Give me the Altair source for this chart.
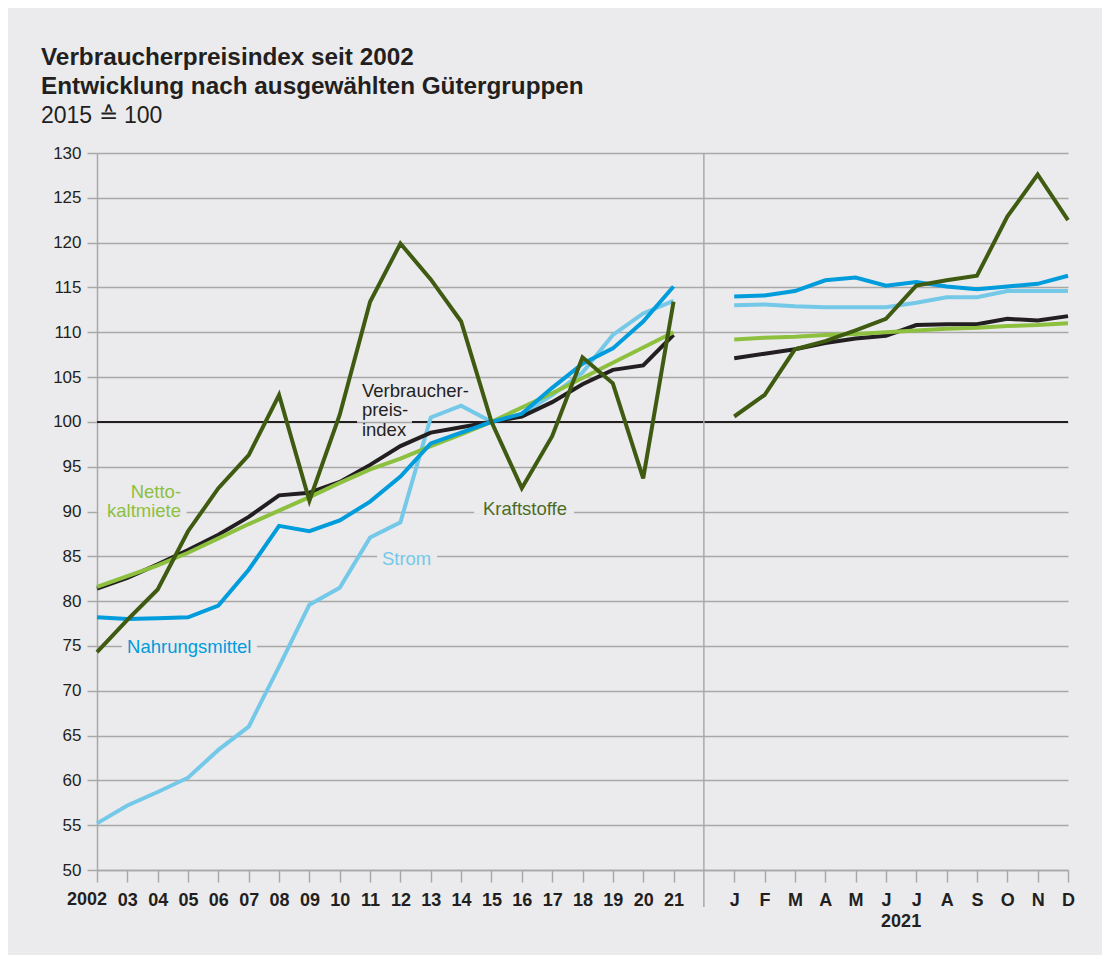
import altair as alt
import pandas as pd

# ---------------- data ----------------
year_labels = ["2002", "03", "04", "05", "06", "07", "08", "09", "10", "11",
               "12", "13", "14", "15", "16", "17", "18", "19", "20", "21"]
month_labels = ["J", "F", "M", "A", "M", "J", "J", "A", "S", "O", "N", "D"]
month_year = "2021"

vpi_year = [81.4, 82.6, 84.1, 85.7, 87.4, 89.4, 91.8, 92.1, 93.3, 95.2,
            97.3, 98.8, 99.4, 100.0, 100.6, 102.2, 104.2, 105.8, 106.3, 109.7]
vpi_month = [107.1, 107.6, 108.1, 108.8, 109.3, 109.6, 110.8, 110.9, 110.9, 111.5, 111.3, 111.8]

miete_year = [81.6, 82.8, 84.0, 85.4, 87.0, 88.6, 90.1, 91.6, 93.2, 94.7,
              95.9, 97.3, 98.6, 100.0, 101.6, 103.2, 104.9, 106.6, 108.3, 110.0]
miete_month = [109.2, 109.4, 109.5, 109.7, 109.8, 110.0, 110.2, 110.4, 110.5, 110.7, 110.8, 111.0]

nahrung_year = [78.2, 78.0, 78.1, 78.2, 79.5, 83.5, 88.4, 87.8, 89.0, 91.1,
                93.9, 97.6, 98.8, 100.0, 100.9, 103.8, 106.5, 108.2, 111.2, 115.1]
nahrung_month = [114.0, 114.1, 114.6, 115.8, 116.1, 115.2, 115.6, 115.1, 114.8, 115.1, 115.4, 116.3]

strom_year = [55.2, 57.2, 58.7, 60.3, 63.4, 66.0, 72.7, 79.6, 81.5, 87.1,
              88.8, 100.5, 101.8, 100.0, 100.9, 103.0, 105.5, 109.7, 112.1, 113.5]
strom_month = [113.0, 113.1, 112.9, 112.8, 112.8, 112.8, 113.3, 113.9, 113.9, 114.6, 114.6, 114.6]

kraft_year = [74.3, 77.9, 81.3, 87.8, 92.6, 96.3, 103.0, 91.2, 100.8, 113.4,
              119.9, 115.9, 111.2, 100.0, 92.6, 98.4, 107.2, 104.3, 93.7, 113.4]
kraft_month = [100.6, 103.0, 108.1, 109.0, 110.2, 111.5, 115.2, 115.8, 116.3, 122.9, 127.6, 122.5]

series = [
    ("Strom", strom_year, strom_month, "#74c8e8"),
    ("Verbraucherpreisindex", vpi_year, vpi_month, "#231f20"),
    ("Nettokaltmiete", miete_year, miete_month, "#8dc03f"),
    ("Nahrungsmittel", nahrung_year, nahrung_month, "#009cdc"),
    ("Kraftstoffe", kraft_year, kraft_month, "#3f5b12"),
]

BG = "#ebebed"
GRID = "#a8a8a8"
FONT = "Liberation Sans"
INK = "#231f20"

# positions along the x axis: years 0..19, gap at 20, months 21..32
n_years = len(year_labels)
gap_pos = n_years
month_start = n_years + 1
last_pos = month_start + len(month_labels) - 1
# first year label is drawn separately (shifted left, as in the original)
all_labels = [""] + year_labels[1:] + [""] + month_labels
tick_pos = list(range(n_years)) + list(range(month_start, last_pos + 1))
label_js = "[" + ",".join('"%s"' % s for s in all_labels) + "]"

W, H = 971, 717

xscale = alt.Scale(domain=[0, last_pos], nice=False, zero=False)
yscale = alt.Scale(domain=[50, 130], nice=False, zero=False)

xaxis = alt.Axis(values=tick_pos, labelExpr=label_js + "[datum.value]", grid=False,
                 title=None, tickSize=12, tickColor=GRID, tickWidth=1.5,
                 domainColor=GRID, domainWidth=1.5, labelFont=FONT, labelFontSize=18,
                 labelFontWeight="bold", labelColor=INK, labelPadding=9,
                 labelFlush=False, labelOverlap=False)
yaxis = alt.Axis(values=list(range(50, 131, 5)), grid=True, gridColor=GRID, gridWidth=1.5,
                 title=None, tickSize=10, tickColor=GRID, tickWidth=1.5,
                 domainColor=GRID, domainWidth=1.5, labelFont=FONT, labelFontSize=17,
                 labelColor=INK, labelPadding=6)


def X(field):
    return alt.X(field, scale=xscale, axis=xaxis)


def Y(field):
    return alt.Y(field, scale=yscale, axis=yaxis)


layers = []

# knockout boxes for the labels sitting on grid lines
knock = pd.DataFrame({
    "x1": [0.05, 0.82, 12.43, 9.23],
    "x2": [2.95, 5.27, 15.72, 11.21],
    "y1": [89.75, 74.75, 89.75, 84.75],
    "y2": [90.25, 75.25, 90.25, 85.25],
})
layers.append(alt.Chart(knock).mark_rect(color=BG).encode(
    x=X("x1:Q"), x2="x2", y=Y("y1:Q"), y2="y2"))

# 100 reference line (interrupted by the label)
ref = pd.DataFrame({"x1": [0, 10.38], "x2": [8.57, last_pos], "v": [100, 100]})
layers.append(alt.Chart(ref).mark_rule(color=INK, strokeWidth=2).encode(
    x=X("x1:Q"), x2="x2", y=Y("v:Q")))

# separator between years and months
sep = pd.DataFrame({"p": [gap_pos]})
layers.append(alt.Chart(sep).mark_rule(color=GRID, strokeWidth=1.5).encode(
    x=X("p:Q"), y=alt.value(0), y2=alt.value(H + 37)))

for name, yv, mv, col in series:
    rows = []
    for i, v in enumerate(yv):
        rows.append({"pos": i, "value": v, "seg": "Jahre"})
    for j, v in enumerate(mv):
        rows.append({"pos": month_start + j, "value": v, "seg": "Monate"})
    df = pd.DataFrame(rows)
    layers.append(alt.Chart(df).mark_line(color=col, strokeWidth=4, strokeJoin="miter",
                                          strokeCap="butt").encode(
        x=X("pos:Q"), y=Y("value:Q"), detail="seg:N"))


def label(text, px, py, col, align, lh=19):
    d = pd.DataFrame({"t": [text], "px": [px], "py": [py]})
    return alt.Chart(d).mark_text(align=align, baseline="middle", font=FONT, fontSize=18.5,
                                  color=col, lineBreak="\n", lineHeight=lh).encode(
        x=X("px:Q"), y=Y("py:Q"), text="t:N")


layers.append(label("Netto-\nkaltmiete", 2.77, 92.2, "#8dc03f", "right"))
layers.append(label("Nahrungsmittel", 0.99, 74.85, "#009cdc", "left"))
layers.append(label("Kraftstoffe", 12.72, 90.25, "#4d6b1f", "left"))
layers.append(label("Strom", 9.39, 84.75, "#74c8e8", "left"))
layers.append(label("Verbraucher-\npreis-\nindex", 8.73, 103.5, INK, "left", lh=19.5))

# first year label (offset left of its tick) and the year under the months
first = pd.DataFrame({"t": [year_labels[0]], "px": [0]})
layers.append(alt.Chart(first).mark_text(align="center", baseline="middle", font=FONT,
                                         fontSize=18, fontWeight="bold", color=INK,
                                         dx=-10).encode(
    x=X("px:Q"), y=alt.value(H + 30), text="t:N"))

yr = pd.DataFrame({"t": [month_year], "px": [(month_start + last_pos) / 2]})
layers.append(alt.Chart(yr).mark_text(align="center", baseline="middle", font=FONT, fontSize=18,
                                      fontWeight="bold", color=INK).encode(
    x=X("px:Q"), y=alt.value(H + 52), text="t:N"))

chart = alt.layer(*layers).properties(
    width=W, height=H,
    autosize=alt.AutoSizeParams(type="none"),
    padding={"left": 89, "top": 145, "right": 34, "bottom": 85},
    background=BG,
    title=alt.Title(
        text=["Verbraucherpreisindex seit 2002", "Entwicklung nach ausgewählten Gütergruppen"],
        subtitle="2015 ≙ 100",
        anchor="start", frame="group", dx=-56, offset=16,
        font=FONT, fontSize=24.3, fontWeight="bold", lineHeight=29, color=INK,
        subtitleFont=FONT, subtitleFontSize=23, subtitleColor=INK,
        subtitlePadding=6,
    ),
).configure_view(stroke=None)

chart.save("out.html", embed_options={"renderer": "svg", "actions": False})
